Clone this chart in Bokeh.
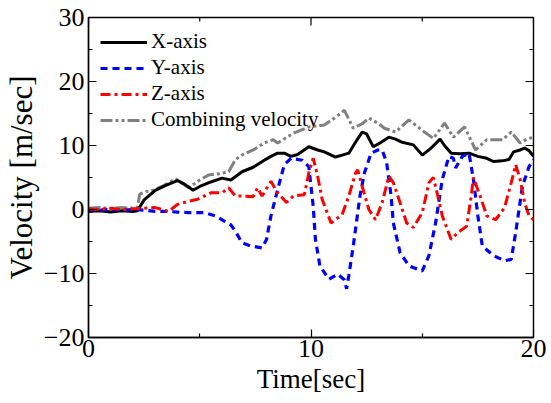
import math
from bokeh.plotting import figure
from bokeh.models import FixedTicker, Range1d, Legend, LegendItem
from bokeh.embed import file_html
from bokeh.resources import INLINE

# ---- data ----
t_x = [0, 0.5, 1.0, 1.5, 2.0, 2.2, 2.5, 3.0, 3.5, 4.0, 4.3, 4.7, 5.0, 5.5, 6.0, 6.4,
       6.9, 7.4, 7.9, 8.2, 8.5, 8.8, 9.1, 9.4, 9.9, 10.3, 10.6, 11.1, 11.4, 11.7, 12.0,
       12.3, 12.5, 12.8, 13.1, 13.5, 13.8, 14.1, 14.6, 15.0, 15.4, 15.8, 16.0, 16.3,
       16.7, 17.1, 17.5, 17.9, 18.2, 18.6, 18.9, 19.1, 19.4, 19.6, 19.8, 20.0]
v_x = [-0.3, -0.2, -0.4, -0.2, -0.3, -0.2, 1.5, 3.0, 3.8, 4.5, 4.0, 3.0, 3.6, 4.3, 4.9, 4.6,
       5.9, 6.6, 7.7, 8.3, 8.8, 8.8, 8.3, 8.6, 9.8, 9.3, 9.0, 8.2, 8.5, 8.8, 10.5,
       12.1, 11.8, 9.8, 10.4, 11.3, 11.0, 10.5, 10.1, 8.5, 9.6, 11.0, 10.0, 8.8,
       8.7, 8.8, 8.3, 8.0, 7.5, 7.6, 7.8, 9.0, 9.3, 9.6, 9.2, 8.3]

t_y = [0, 0.5, 1.0, 1.5, 2.0, 2.5, 3.0, 3.5, 4.0, 4.5, 5.2, 5.7, 6.1, 6.4, 6.6, 6.9,
       7.3, 7.8, 8.0, 8.2, 8.5, 8.8, 9.1, 9.6, 9.9, 10.1, 10.2, 10.4, 10.8, 11.2,
       11.5, 11.6, 11.7, 11.9, 12.2, 12.4, 12.7, 13.0, 13.2, 13.4, 13.6, 13.7, 14.0,
       14.4, 15.0, 15.3, 15.6, 15.9, 16.2, 16.4, 16.5, 16.8, 17.1, 17.3, 17.5, 17.7,
       18.2, 18.7, 19.0, 19.2, 19.5, 19.8, 20.0]
v_y = [0.0, -0.1, 0.0, -0.1, 0.0, -0.1, -0.3, -0.3, -0.4, -0.5, -0.5, -1.0, -1.8, -2.4, -3.4, -5.2,
       -5.7, -6.0, -4.7, -1.0, 3.1, 7.0, 8.0, 7.7, 6.7, 0.5, -4.7, -8.8, -10.9, -10.1,
       -11.0, -12.4, -10.3, -5.7, 2.1, 5.7, 8.8, 9.3, 9.3, 7.3, 2.1, -2.1, -6.7,
       -8.8, -9.6, -7.2, -2.1, 4.7, 8.3, 8.0, 6.5, 8.3, 8.8, 4.7, -1.0, -5.7,
       -7.2, -8.0, -7.8, -3.6, 3.6, 6.7, 7.8]

t_z = [0, 0.5, 1.0, 1.5, 2.0, 2.5, 3.0, 3.6, 4.0, 4.5, 4.9, 5.5, 6.0, 6.3, 6.6, 6.9,
       7.4, 7.6, 7.8, 8.2, 8.5, 8.9, 9.2, 9.7, 9.9, 10.1, 10.3, 10.5, 10.9, 11.4,
       11.7, 12.0, 12.1, 12.3, 12.6, 12.9, 13.2, 13.5, 13.7, 14.0, 14.3, 14.6, 15.0,
       15.3, 15.5, 15.7, 15.9, 16.3, 16.6, 17.0, 17.2, 17.3, 17.6, 17.9, 18.3, 18.7,
       19.0, 19.2, 19.4, 19.6, 19.8, 20.0]
v_z = [0.1, 0.0, 0.2, 0.0, 0.1, 0.2, 0.3, -0.3, 0.8, 1.3, 1.6, 2.6, 2.6, 3.4, 2.1, 2.1,
       2.0, 3.4, 2.1, 4.4, 2.6, 1.1, 2.1, 2.3, 5.7, 8.0, 5.2, 1.6, -2.1, -0.8,
       2.1, 5.7, 6.2, 3.6, 0.0, -1.6, 1.1, 5.2, 4.2, 1.1, -2.1, -2.8, -0.5,
       4.2, 5.0, 2.1, -1.0, -4.7, -3.6, -2.6, 2.1, 5.0, 2.1, -1.0, -1.6, 0.3,
       4.2, 7.0, 4.7, 1.1, -1.0, -1.6]

t_c = [0, 0.5, 1.0, 1.5, 2.0, 2.2, 2.3, 2.6, 2.9, 3.3, 3.9, 4.5, 5.0, 5.4, 5.9, 6.3,
       6.6, 6.9, 7.4, 7.9, 8.3, 8.5, 9.2, 9.9, 10.6, 11.1, 11.5, 11.9, 12.3, 12.6,
       13.0, 13.3, 13.8, 14.4, 15.1, 15.5, 16.0, 16.4, 16.9, 17.4, 17.9, 18.6,
       19.0, 19.4, 19.7, 20.0]
v_c = [0.2, 0.3, 0.1, 0.3, 0.2, 0.3, 2.4, 2.8, 3.0, 3.6, 4.8, 3.4, 4.6, 5.4, 5.6, 5.9,
       7.8, 8.5, 9.3, 10.4, 10.9, 10.4, 11.9, 12.9, 13.2, 14.4, 15.5, 12.7, 13.4, 14.3,
       13.5, 12.7, 12.1, 14.0, 12.1, 11.1, 13.5, 11.3, 12.9, 9.3, 10.9, 10.9,
       12.1, 10.4, 11.0, 11.3]

labels = ["X-axis", "Y-axis", "Z-axis", "Combining velocity"]
x_lim = (0, 20)
y_lim = (-20, 30)
x_ticks = [0, 10, 20]
x_minor = [5, 15]
y_ticks = [-20, -10, 0, 10, 20, 30]
y_minor = [-15, -5, 5, 15, 25]

FONT = "Liberation Serif"

p = figure(width=551, height=403, output_backend="svg", toolbar_location=None,
           x_range=Range1d(*x_lim), y_range=Range1d(*y_lim),
           min_border_left=86, min_border_right=18, min_border_top=17, min_border_bottom=66,
           x_axis_label="Time[sec]", y_axis_label="Velocity [m/sec]")
p.grid.visible = False
p.outline_line_color = "black"
p.outline_line_width = 1.4
p.outline_line_alpha = 1.0
p.background_fill_color = "white"
p.border_fill_color = "white"

r_c = p.line(t_c, v_c, color="#808080", line_width=3, line_dash="12 3 3 3 3 3")
r_x = p.line(t_x, v_x, color="black", line_width=3)
r_y = p.line(t_y, v_y, color="#0000ff", line_width=3.2, line_dash="7 5")
r_z = p.line(t_z, v_z, color="#ff0000", line_width=3, line_dash="10 4 3 4")

# mirrored inward ticks on the top and right frame edges (lengths in screen pixels)
p.ray(x=x_ticks, y=[y_lim[1]] * len(x_ticks), length=8, length_units="screen",
      angle=-math.pi / 2, color="black", line_width=1.2)
p.ray(x=x_minor, y=[y_lim[1]] * len(x_minor), length=4, length_units="screen",
      angle=-math.pi / 2, color="black", line_width=1.2)
p.ray(x=[x_lim[1]] * len(y_ticks), y=y_ticks, length=8, length_units="screen",
      angle=math.pi, color="black", line_width=1.2)
p.ray(x=[x_lim[1]] * len(y_minor), y=y_minor, length=4, length_units="screen",
      angle=math.pi, color="black", line_width=1.2)

def style(ax, ticks, minor):
    ax.ticker = FixedTicker(ticks=ticks, minor_ticks=minor)
    ax.axis_line_color = "black"
    ax.axis_line_width = 1.4
    ax.major_tick_in = 8
    ax.major_tick_out = 0
    ax.minor_tick_in = 4
    ax.minor_tick_out = 0
    ax.major_tick_line_color = "black"
    ax.minor_tick_line_color = "black"
    ax.major_tick_line_width = 1.2
    ax.minor_tick_line_width = 1.2
    ax.major_label_text_font = FONT
    ax.major_label_text_color = "black"
    ax.major_label_text_font_size = "26px"
    ax.axis_label_text_font = FONT
    ax.axis_label_text_font_style = "normal"
    ax.axis_label_text_color = "black"

xa = p.xaxis[0]
ya = p.yaxis[0]
style(xa, x_ticks, x_minor)
style(ya, y_ticks, y_minor)
xa.axis_label_text_font_size = "27px"
ya.axis_label_text_font_size = "31px"
xa.major_label_standoff = 2
xa.axis_label_standoff = 4
ya.major_label_standoff = 4
ya.axis_label_standoff = 2

legend = Legend(items=[LegendItem(label=labels[0], renderers=[r_x]),
                       LegendItem(label=labels[1], renderers=[r_y]),
                       LegendItem(label=labels[2], renderers=[r_z]),
                       LegendItem(label=labels[3], renderers=[r_c])],
                location="top_left")
legend.margin = 11
legend.padding = 1
legend.spacing = 1
legend.glyph_width = 47
legend.glyph_height = 22
legend.label_height = 22
legend.label_standoff = 4
legend.label_text_font = FONT
legend.label_text_font_size = "21px"
legend.label_text_color = "black"
legend.background_fill_alpha = 0
legend.border_line_alpha = 0
p.add_layout(legend, "center")

open("out.html", "w").write(file_html(p, INLINE))
